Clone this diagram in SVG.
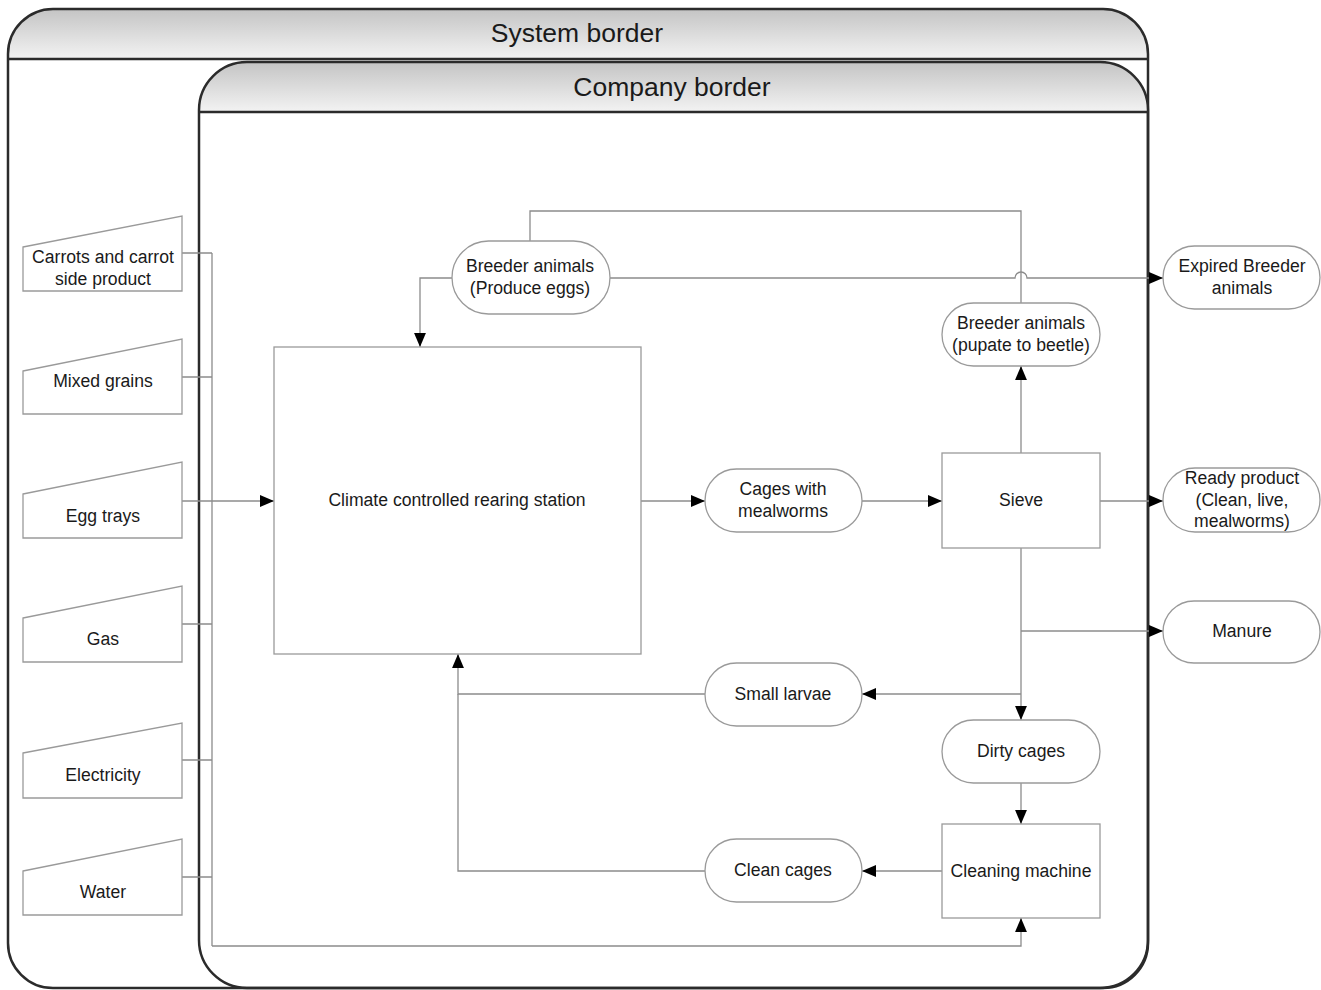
<svg xmlns="http://www.w3.org/2000/svg" width="1321" height="990" viewBox="0 0 1321 990">
<defs>
<linearGradient id="hdr" x1="0" y1="0" x2="0" y2="1">
<stop offset="0" stop-color="#c4c4c4"/>
<stop offset="1" stop-color="#f3f3f3"/>
</linearGradient>
<marker id="arr" markerUnits="userSpaceOnUse" markerWidth="14" markerHeight="12" refX="13" refY="5.5" orient="auto" viewBox="0 0 13 11">
<path d="M0,0 L13,5.5 L0,11 Z" fill="#000"/>
</marker>
</defs>
<style>
.border{fill:none;stroke:#2b2b2b;stroke-width:2.5}
.node{fill:#fff;stroke:#9a9a9a;stroke-width:1.3}
.con{fill:none;stroke:#8c8c8c;stroke-width:1.3}
.arr{marker-end:url(#arr)}
text{font-family:"Liberation Sans",Arial,sans-serif;font-size:17.6px;fill:#1a1a1a;text-anchor:middle}
.title{font-size:26.5px}
</style>
<rect width="1321" height="990" fill="#fff"/>
<g id="system-border">
<path d="M8,59 V54 A45,45 0 0 1 53,9 H1103 A45,45 0 0 1 1148,54 V59 Z" fill="url(#hdr)"/>
<rect class="border" x="8" y="9" width="1140" height="979" rx="45" ry="45"/>
<line class="border" x1="8" y1="59" x2="1148" y2="59"/>
<text class="title" x="577" y="42">System border</text>
</g>
<g id="company-border">
<path d="M199,112 V110 A48,48 0 0 1 247,62 H1100 A48,48 0 0 1 1148,110 V112 Z" fill="url(#hdr)"/>
<rect class="border" x="199" y="62" width="949" height="926" rx="48" ry="48"/>
<line class="border" x1="199" y1="112" x2="1148" y2="112"/>
<text class="title" x="672" y="96">Company border</text>
</g>
<g id="connectors">
<path class="con" d="M182,253 H212 M182,377 H212 M182,624 H212 M182,760 H212 M182,877 H212 M212,253 V946"/>
<path class="con arr" d="M182,501 H274"/>
<path class="con arr" d="M212,946 H1021 V918"/>
<path class="con arr" d="M452,278 H420 V347"/>
<path class="con" d="M1021,303 V211 H530 V241"/>
<path class="con arr" d="M610,278 H1015 A6,6 0 0 1 1027,278 H1163"/>
<path class="con arr" d="M641,501 H705"/>
<path class="con arr" d="M862,501 H942"/>
<path class="con arr" d="M1021,453 V366"/>
<path class="con arr" d="M1100,501 H1163"/>
<path class="con arr" d="M1021,548 V720"/>
<path class="con arr" d="M1021,631 H1163"/>
<path class="con arr" d="M1021,694 H862"/>
<path class="con arr" d="M705,694 H458 V654"/>
<path class="con arr" d="M1021,783 V824"/>
<path class="con arr" d="M942,871 H862"/>
<path class="con" d="M705,871 H458 V694"/>
</g>
<g id="in-carrots">
<polygon class="node" points="23,247 182,216 182,291 23,291"/>
<text x="103" y="263">Carrots and carrot</text>
<text x="103" y="285">side product</text>
</g>
<g id="in-grains">
<polygon class="node" points="23,371 182,339 182,414 23,414"/>
<text x="103" y="387">Mixed grains</text>
</g>
<g id="in-eggtrays">
<polygon class="node" points="23,494 182,462 182,538 23,538"/>
<text x="103" y="522">Egg trays</text>
</g>
<g id="in-gas">
<polygon class="node" points="23,618 182,586 182,662 23,662"/>
<text x="103" y="645">Gas</text>
</g>
<g id="in-electricity">
<polygon class="node" points="23,753 182,723 182,798 23,798"/>
<text x="103" y="781">Electricity</text>
</g>
<g id="in-water">
<polygon class="node" points="23,871 182,839 182,915 23,915"/>
<text x="103" y="898">Water</text>
</g>
<g id="rearing-station">
<rect class="node" x="274" y="347" width="367" height="307"/>
<text x="457" y="506">Climate controlled rearing station</text>
</g>
<g id="breeder-eggs">
<rect class="node" x="452" y="241" width="158" height="73" rx="36.5"/>
<text x="530" y="272">Breeder animals</text>
<text x="530" y="294">(Produce eggs)</text>
</g>
<g id="breeder-pupate">
<rect class="node" x="942" y="303" width="158" height="63" rx="31.5"/>
<text x="1021" y="329">Breeder animals</text>
<text x="1021" y="351">(pupate to beetle)</text>
</g>
<g id="expired">
<rect class="node" x="1163" y="246" width="157" height="63" rx="31.5"/>
<text x="1242" y="272">Expired Breeder</text>
<text x="1242" y="294">animals</text>
</g>
<g id="cages-mealworms">
<rect class="node" x="705" y="469" width="157" height="63" rx="31.5"/>
<text x="783" y="495">Cages with</text>
<text x="783" y="517">mealworms</text>
</g>
<g id="sieve">
<rect class="node" x="942" y="453" width="158" height="95"/>
<text x="1021" y="506">Sieve</text>
</g>
<g id="ready-product">
<rect class="node" x="1163" y="468" width="157" height="64" rx="32"/>
<text x="1242" y="484">Ready product</text>
<text x="1242" y="506">(Clean, live,</text>
<text x="1242" y="527">mealworms)</text>
</g>
<g id="manure">
<rect class="node" x="1163" y="601" width="157" height="62" rx="31"/>
<text x="1242" y="637">Manure</text>
</g>
<g id="small-larvae">
<rect class="node" x="705" y="663" width="157" height="63" rx="31.5"/>
<text x="783" y="700">Small larvae</text>
</g>
<g id="dirty-cages">
<rect class="node" x="942" y="720" width="158" height="63" rx="31.5"/>
<text x="1021" y="757">Dirty cages</text>
</g>
<g id="cleaning-machine">
<rect class="node" x="942" y="824" width="158" height="94"/>
<text x="1021" y="877">Cleaning machine</text>
</g>
<g id="clean-cages">
<rect class="node" x="705" y="839" width="157" height="63" rx="31.5"/>
<text x="783" y="876">Clean cages</text>
</g>
</svg>
